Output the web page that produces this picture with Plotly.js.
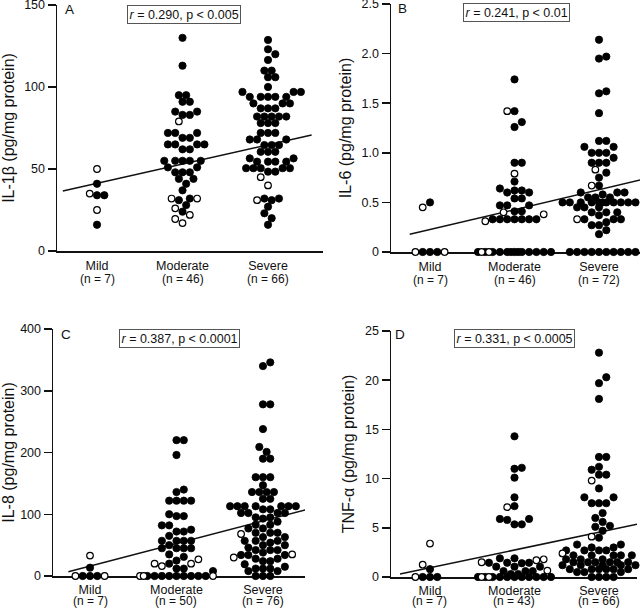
<!DOCTYPE html>
<html><head><meta charset="utf-8">
<script src="https://cdn.plot.ly/plotly-3.0.1.min.js"></script>
<style>html,body{margin:0;padding:0;background:#fff}#chart{width:640px;height:609px}</style>
</head><body><div id="chart"></div>
<script>
// ================= DATA =================
const categories = ['Mild', 'Moderate', 'Severe'];

// Panel A : IL-1beta (pg/mg protein)
const il1bN = ['(n = 7)', '(n = 46)', '(n = 66)'];
const il1bTicks = [0, 50, 100, 150];
const il1bTickText = ['0', '50', '100', '150'];
const il1bMildOpen = [50, 35, 25];
const il1bMildFilled = [41, 34, 34, 16];
const il1bModOpen = [79, 32, 32, 26, 22, 19.5, 17];
const il1bModFilled = [130, 113, 95, 95, 91, 91, 85, 85, 83, 83, 72, 72, 72, 69, 69, 65, 65, 65, 65, 62, 62, 55, 55, 55, 55, 55, 51, 51, 48, 48, 48, 44, 44, 41, 37, 32, 31, 28, 24];
const il1bSevOpen = [45, 40, 31];
const il1bSevFilled = [128.7, 123, 120, 116.5, 110, 110, 106, 106, 100, 97, 97, 97, 94, 94, 94, 94, 94, 90, 90, 90, 87, 87, 87, 82, 82, 82, 82, 82, 78, 78, 78, 72, 72, 72, 68, 68, 68, 64.6, 64.6, 64.6, 60.5, 60.5, 60.5, 56.5, 56.5, 54.5, 54.5, 54.5, 54.5, 50.5, 50.5, 50.5, 50.5, 50.5, 48.4, 48.4, 32, 32, 31, 27, 23, 20, 16];
const il1bFitX = [0.60, 3.51];
const il1bFitY = [36.6, 70.7];
const il1bStat = '<i>r</i> = 0.290, p &lt; 0.005';

// Panel B : IL-6 (pg/mg protein)
const il6N = ['(n = 7)', '(n = 46)', '(n = 72)'];
const il6Ticks = [0, 0.5, 1.0, 1.5, 2.0, 2.5];
const il6TickText = ['0', '0.5', '1.0', '1.5', '2.0', '2.5'];
const il6MildOpen = [0.45, 0, 0];
const il6MildFilled = [0.5, 0, 0, 0];
const il6ModOpen = [1.42, 0.79, 0.40, 0.38, 0.31, 0, 0];
const il6ModFilled = [1.74, 1.42, 1.31, 1.26, 0.9, 0.9, 0.71, 0.64, 0.62, 0.62, 0.6, 0.6, 0.54, 0.54, 0.47, 0.47, 0.47, 0.41, 0.41, 0.33, 0.33, 0.33, 0.33, 0.33, 0.33, 0.33, 0, 0, 0, 0, 0, 0, 0, 0, 0, 0, 0, 0, 0];
const il6SevOpen = [0.83, 0.67, 0.33];
const il6SevFilled = [2.14, 1.97, 1.95, 1.62, 1.60, 1.40, 1.12, 1.12, 1.06, 1.06, 1.0, 1.0, 1.0, 0.95, 0.9, 0.9, 0.9, 0.8, 0.75, 0.67, 0.6, 0.6, 0.6, 0.58, 0.55, 0.55, 0.55, 0.5, 0.5, 0.5, 0.5, 0.5, 0.5, 0.5, 0.5, 0.5, 0.5, 0.5, 0.45, 0.45, 0.45, 0.4, 0.4, 0.4, 0.37, 0.33, 0.33, 0.33, 0.3, 0.27, 0.27, 0.22, 0.18, 0, 0, 0, 0, 0, 0, 0, 0, 0, 0];
const il6FitX = [0.76, 3.49];
const il6FitY = [0.178, 0.726];
const il6Stat = '<i>r</i> = 0.241, p &lt; 0.01';

// Panel C : IL-8 (pg/mg protein)
const il8N = ['(n = 7)', '(n = 50)', '(n = 76)'];
const il8Ticks = [0, 100, 200, 300, 400];
const il8TickText = ['0', '100', '200', '300', '400'];
const il8MildOpen = [33, 0, 0];
const il8MildFilled = [13.5, 0, 0, 0];
const il8ModOpen = [27, 20, 20, 16, 0, 0, 0];
const il8ModFilled = [220, 220, 196, 140, 136, 122, 122, 122, 122, 100, 97, 97, 82, 82, 75, 72, 72, 65, 57, 57, 57, 57, 50, 45, 45, 45, 45, 35, 31, 25, 20, 12, 12, 8, 0, 0, 0, 0, 0, 0, 0, 0, 0];
const il8SevOpen = [68, 35, 30];
const il8SevFilled = [346, 340, 278, 278, 238, 209, 201, 190, 190, 160, 160, 160, 147, 136, 136, 136, 136, 125, 125, 113, 113, 113, 113, 113, 113, 113, 108, 108, 102, 102, 102, 102, 95, 95, 93, 88, 83, 83, 77, 77, 70, 70, 70, 63, 63, 57, 57, 57, 54, 50, 50, 46, 42, 42, 42, 38, 34, 34, 34, 28, 28, 24, 24, 19, 15, 12, 12, 12, 8, 8, 0, 0, 0];
const il8FitX = [0.75, 3.49];
const il8FitY = [7, 107];
const il8Stat = '<i>r</i> = 0.387, p &lt; 0.0001';

// Panel D : TNF-alpha (pg/mg protein)
const tnfN = ['(n = 7)', '(n = 43)', '(n = 66)'];
const tnfTicks = [0, 5, 10, 15, 20, 25];
const tnfTickText = ['0', '5', '10', '15', '20', '25'];
const tnfMildOpen = [3.4, 1.25, 0];
const tnfMildFilled = [0.8, 0, 0, 0];
const tnfModOpen = [7.1, 1.8, 1.7, 1.5, 0.65, 0, 0];
const tnfModFilled = [14.3, 11.1, 11.0, 10.1, 8.1, 7.2, 5.9, 5.9, 5.8, 5.35, 5.35, 1.9, 1.9, 1.45, 1.45, 1.45, 1.4, 1.05, 1.05, 1.05, 0.6, 0.6, 0.6, 0.3, 0.3, 0, 0, 0, 0, 0, 0, 0, 0, 0, 0, 0];
const tnfSevOpen = [9.8, 4.1, 2.4];
const tnfSevFilled = [22.8, 20.3, 19.7, 18.1, 12.2, 12.2, 11.2, 10.9, 10.4, 10.4, 9.0, 8.1, 8.1, 7.5, 7.5, 7.5, 6.5, 6.0, 5.6, 5.2, 5.1, 4.7, 4.0, 3.3, 3.3, 3.0, 3.0, 2.7, 2.7, 2.7, 2.7, 2.2, 2.2, 2.2, 2.2, 2.2, 1.8, 1.8, 1.8, 1.5, 1.5, 1.5, 1.5, 1.5, 1.5, 1.2, 1.2, 1.2, 1.2, 1.2, 0.8, 0.8, 0.8, 0.8, 0.8, 0.8, 0.5, 0.5, 0.5, 0, 0, 0, 0];
const tnfFitX = [0.645, 3.45];
const tnfFitY = [0.3, 5.36];
const tnfStat = '<i>r</i> = 0.331, p &lt; 0.0005';

// ================= LAYOUT / DRAWING =================
const FIG_W = 640, FIG_H = 609;
const FONT = 'Liberation Sans, Arial, Helvetica, sans-serif';
const INK = '#111';

const panels = [
  { letter: 'A', title: 'IL-1\u03b2 (pg/mg protein)', nLabels: il1bN, ticks: il1bTicks, tickText: il1bTickText,
    groups: [[il1bMildFilled, il1bMildOpen], [il1bModFilled, il1bModOpen], [il1bSevFilled, il1bSevOpen]],
    fitX: il1bFitX, fitY: il1bFitY, stat: il1bStat,
    xd: [57, 323], yd: [5, 251], xr: [0.532, 3.643], letterPos: [69, 10], statPos: [184, 14.5] },
  { letter: 'B', title: 'IL-6 (pg/mg protein)', nLabels: il6N, ticks: il6Ticks, tickText: il6TickText,
    groups: [[il6MildFilled, il6MildOpen], [il6ModFilled, il6ModOpen], [il6SevFilled, il6SevOpen]],
    fitX: il6FitX, fitY: il6FitY, stat: il6Stat,
    xd: [391, 640], yd: [4, 252], xr: [0.5385, 3.485], letterPos: [402, 8.5], statPos: [516, 13] },
  { letter: 'C', title: 'IL-8 (pg/mg protein)', nLabels: il8N, ticks: il8Ticks, tickText: il8TickText,
    groups: [[il8MildFilled, il8MildOpen], [il8ModFilled, il8ModOpen], [il8SevFilled, il8SevOpen]],
    fitX: il8FitX, fitY: il8FitY, stat: il8Stat,
    xd: [53, 305], yd: [329, 576], xr: [0.572, 3.486], letterPos: [66, 334], statPos: [179.5, 338] },
  { letter: 'D', title: 'TNF-\u03b1 (pg/mg protein)', nLabels: tnfN, ticks: tnfTicks, tickText: tnfTickText,
    groups: [[tnfMildFilled, tnfMildOpen], [tnfModFilled, tnfModOpen], [tnfSevFilled, tnfSevOpen]],
    fitX: tnfFitX, fitY: tnfFitY, stat: tnfStat,
    xd: [391, 637], yd: [331, 577], xr: [0.5385, 3.450], letterPos: [399.5, 334], statPos: [514.5, 338.5] }
];

// Beeswarm layout: computes horizontal offsets (px) from the values so dots do not overlap.
function swarm(filled, open, pxPerY, maxHalf) {
  const D = 7.3, STEP = 3.65;
  const cands = [];
  const kMax = Math.floor(maxHalf / STEP);
  for (let k = -kMax; k <= kMax; k++) cands.push(k * STEP);
  const placed = [];
  function place(v, isOpen) {
    const py = v * pxPerY;
    const order = cands.slice().sort((a, b) => {
      const da = Math.abs(a), db = Math.abs(b);
      if (da !== db) return da - db;
      return isOpen ? a - b : b - a;
    });
    let chosen = null, bestScore = -1, bestC = null;
    for (const c of order) {
      let minD = Infinity;
      for (const p of placed) {
        const dd = Math.hypot(p.px - c, p.py - py);
        if (dd < minD) minD = dd;
      }
      if (minD >= D - 0.01) { chosen = c; break; }
      if (minD > bestScore + 1e-6 || (Math.abs(minD - bestScore) < 1e-6 && isOpen && c < bestC)) {
        bestScore = minD; bestC = c;
      }
    }
    if (chosen === null) chosen = bestC;
    placed.push({ px: chosen, py: py });
    return chosen;
  }
  const f = filled.slice().sort((a, b) => a - b).map(v => ({ v, dx: place(v, false) }));
  const o = open.slice().sort((a, b) => a - b).map(v => ({ v, dx: place(v, true) }));
  return { filled: f, open: o };
}

const traces = [];
const layout = {
  width: FIG_W, height: FIG_H, margin: { l: 0, r: 0, t: 0, b: 0 },
  paper_bgcolor: '#fff', plot_bgcolor: 'rgba(0,0,0,0)', showlegend: false,
  font: { family: FONT, color: INK, size: 12 },
  annotations: []
};

panels.forEach((p, i) => {
  const xa = i === 0 ? 'x' : 'x' + (i + 1);
  const ya = i === 0 ? 'y' : 'y' + (i + 1);
  const top = p.ticks[p.ticks.length - 1];
  const yr = [0, top * (1 + 1e-4)];
  const pxX = (p.xd[1] - p.xd[0]) / (p.xr[1] - p.xr[0]);
  const pxY = (p.yd[1] - p.yd[0]) / top;

  const fx = [], fy = [], ox = [], oy = [];
  p.groups.forEach((g, gi) => {
    const s = swarm(g[0], g[1], pxY, 39);
    s.filled.forEach(d => { fx.push(gi + 1 + d.dx / pxX); fy.push(d.v); });
    s.open.forEach(d => { ox.push(gi + 1 + d.dx / pxX); oy.push(d.v); });
  });

  traces.push({ type: 'scatter', mode: 'lines', x: p.fitX, y: p.fitY, xaxis: xa, yaxis: ya,
    line: { color: INK, width: 1.5 }, hoverinfo: 'skip', cliponaxis: false });
  traces.push({ type: 'scatter', mode: 'markers', x: fx, y: fy, xaxis: xa, yaxis: ya, cliponaxis: false,
    marker: { symbol: 'circle', size: 7.3, color: '#000', line: { color: '#000', width: 0.8 } } });
  traces.push({ type: 'scatter', mode: 'markers', x: ox, y: oy, xaxis: xa, yaxis: ya, cliponaxis: false,
    marker: { symbol: 'circle', size: 6.6, color: '#fff', line: { color: '#000', width: 1.2 } } });

  const xdom = [p.xd[0] / FIG_W, p.xd[1] / FIG_W];
  const ydom = [1 - p.yd[1] / FIG_H, 1 - p.yd[0] / FIG_H];
  const bottomPanel = p.yd[1] > FIG_H / 2;

  layout[xa === 'x' ? 'xaxis' : 'xaxis' + (i + 1)] = {
    domain: xdom, range: p.xr, anchor: ya, tickmode: 'array', tickvals: [1, 2, 3], ticktext: categories,
    ticks: '', showline: true, linecolor: INK, linewidth: 1.5, showgrid: false, zeroline: false,
    layer: 'below traces', tickfont: { size: 12.5, family: FONT, color: INK },
    ticklabelstandoff: bottomPanel ? 1 : 2, ticklabeloverflow: 'allow', fixedrange: true
  };
  layout[ya === 'y' ? 'yaxis' : 'yaxis' + (i + 1)] = {
    domain: ydom, range: yr, anchor: xa, tickmode: 'array', tickvals: p.ticks, ticktext: p.tickText,
    ticks: 'outside', ticklen: 8, tickwidth: 1.5, tickcolor: INK,
    showline: true, linecolor: INK, linewidth: 1.5, showgrid: false, zeroline: false,
    layer: 'below traces', tickfont: { size: 12.5, family: FONT, color: INK }, fixedrange: true,
    ticklabeloverflow: 'allow',
    title: { text: p.title, font: { size: 16, family: FONT, color: INK }, standoff: 6 }
  };

  // group sizes printed under the category names
  const nCenter = Math.min(p.yd[1] + 28, FIG_H - 8.5);
  p.nLabels.forEach((t, k) => {
    layout.annotations.push({
      xref: xa, yref: 'paper', x: k + 1, y: 1 - nCenter / FIG_H,
      xanchor: 'center', yanchor: 'middle', text: t, showarrow: false,
      font: { size: 12, family: FONT, color: INK }
    });
  });

  layout.annotations.push({
    xref: 'paper', yref: 'paper', x: p.letterPos[0] / FIG_W, y: 1 - p.letterPos[1] / FIG_H,
    xanchor: 'center', yanchor: 'middle', text: p.letter, showarrow: false,
    font: { size: 13.5, family: FONT, color: INK }
  });
  layout.annotations.push({
    xref: 'paper', yref: 'paper', x: p.statPos[0] / FIG_W, y: 1 - p.statPos[1] / FIG_H,
    xanchor: 'center', yanchor: 'middle', text: p.stat, showarrow: false,
    font: { size: 12.5, family: FONT, color: INK }, bgcolor: '#fff',
    bordercolor: '#555', borderwidth: 1, borderpad: 1.5
  });
});

Plotly.newPlot('chart', traces, layout, { staticPlot: true, displayModeBar: false });
</script>
</body></html>
